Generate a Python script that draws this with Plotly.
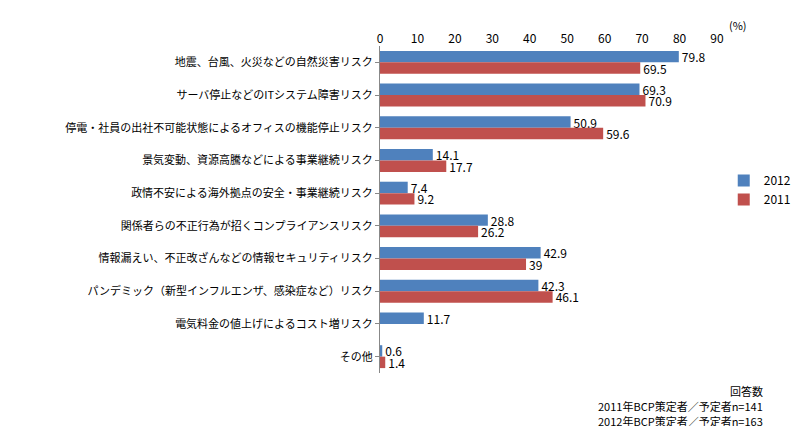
import plotly.graph_objects as go

categories = [
    "地震、台風、火災などの自然災害リスク",
    "サーバ停止などのITシステム障害リスク",
    "停電・社員の出社不可能状態によるオフィスの機能停止リスク",
    "景気変動、資源高騰などによる事業継続リスク",
    "政情不安による海外拠点の安全・事業継続リスク",
    "関係者らの不正行為が招くコンプライアンスリスク",
    "情報漏えい、不正改ざんなどの情報セキュリティリスク",
    "パンデミック（新型インフルエンザ、感染症など）リスク",
    "電気料金の値上げによるコスト増リスク",
    "その他",
]
values_2012 = [79.8, 69.3, 50.9, 14.1, 7.4, 28.8, 42.9, 42.3, 11.7, 0.6]
values_2011 = [69.5, 70.9, 59.6, 17.7, 9.2, 26.2, 39, 46.1, None, 1.4]
ticks = [0, 10, 20, 30, 40, 50, 60, 70, 80, 90]
notes = ["回答数", "2011年BCP策定者／予定者n=141", "2012年BCP策定者／予定者n=163"]

font = "Noto Sans CJK JP"

fig = go.Figure()
fig.add_trace(go.Bar(
    y=categories, x=values_2012, name="2012", orientation="h",
    marker=dict(color="#4F81BD", line=dict(width=0)),
    text=[str(v) for v in values_2012], textposition="outside",
    constraintext="none", outsidetextfont=dict(size=12, color="black"),
    cliponaxis=False,
))
fig.add_trace(go.Bar(
    y=categories, x=values_2011, name="2011", orientation="h",
    marker=dict(color="#C0504D", line=dict(width=0)),
    text=["" if v is None else str(v) for v in values_2011], textposition="outside",
    constraintext="none", outsidetextfont=dict(size=12, color="black"),
    cliponaxis=False,
))

annotations = [
    dict(text="(%)", x=(765 - 372) / 370, y=1 + (38 - 17) / 327, xref="paper",
         yref="paper", xanchor="center", yanchor="middle", showarrow=False),
]
for i, t in enumerate(notes):
    annotations.append(dict(text=t, x=1 + (795 - 742) / 370, y=-(383 + 15 * i - 365) / 327,
                            xref="paper", yref="paper", xanchor="right",
                            yanchor="middle", showarrow=False, font=dict(size=11)))

fig.update_layout(
    width=800, height=426,
    margin=dict(l=372, r=58, t=38, b=61),
    barmode="group", bargap=0.3, bargroupgap=0,
    plot_bgcolor="white", paper_bgcolor="white",
    font=dict(family=font, size=11, color="black"),
    xaxis=dict(side="top", range=[0, 90], tickvals=ticks, showgrid=False,
               zeroline=False, showline=False, ticks="", tickfont=dict(size=12),
               automargin=False),
    yaxis=dict(autorange="reversed", showline=True, linecolor="#888",
               linewidth=1, ticks="outside", ticklen=4, tickcolor="#888",
               tickfont=dict(size=11), automargin=False),
    legend=dict(x=1.02, y=0.56, xanchor="left", yanchor="middle",
                font=dict(size=12), tracegroupgap=8),
    annotations=annotations,
)

fig.write_html("out.html")
